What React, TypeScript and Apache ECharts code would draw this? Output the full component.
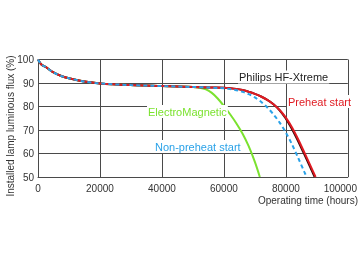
import React, { useEffect, useRef } from "react";
import * as echarts from "echarts";

// Shared early-life decline (hours, %)
const commonHours = [0, 1000, 2500, 5000, 7500, 10000, 15000, 20000, 30000, 40000, 50000];
const commonFlux = [100, 98, 96.8, 94.5, 93, 92, 90.6, 89.8, 89.1, 88.7, 88.3];

const electroHours = [52000, 54000, 56000, 58000, 60000, 62000, 64000, 66000, 68000, 70000, 71600];
const electroFlux = [88.0, 87.4, 85.9, 83.4, 80.2, 76.7, 72.9, 68.5, 63.1, 56.4, 50];

const nonPreheatHours = [55000, 58000, 60000, 62000, 64000, 66000, 68000, 70000, 72000, 74000, 76000, 78000, 80000, 82000, 84000, 86000, 86700];
const nonPreheatFlux = [88.1, 87.9, 87.75, 87.45, 86.95, 86.25, 85.25, 83.85, 82.0, 79.6, 76.65, 73.15, 68.95, 63.85, 58.05, 52.05, 50];

const preheatHours = [55000, 60000, 62000, 64000, 66000, 68000, 70000, 72000, 74000, 76000, 78000, 80000, 82000, 84000, 86000, 88000, 89600];
const preheatFlux = [88.1, 88.0, 87.8, 87.5, 87.0, 86.3, 85.4, 84.25, 82.8, 80.95, 78.5, 75.25, 71.05, 65.95, 60.35, 54.65, 50];

const xtremeHours = [55000, 60000, 62000, 64000, 66000, 68000, 70000, 72000, 74000, 76000, 77900, 79800, 81700, 83700, 85700, 87700, 89300];
const xtremeFlux = [88.1, 88.0, 87.8, 87.5, 87.0, 86.3, 85.4, 84.25, 82.8, 80.95, 78.5, 75.25, 71.05, 65.95, 60.35, 54.65, 50];

const xTicks = [0, 20000, 40000, 60000, 80000, 100000];
const yTicks = [50, 60, 70, 80, 90, 100];

const labels = {
  xtreme: "Philips HF-Xtreme",
  preheat: "Preheat start",
  electro: "ElectroMagnetic",
  nonPreheat: "Non-preheat start",
  xName: "Operating time (hours)",
  yName: "Installed lamp luminous flux (%)",
};

const zip = (hs: number[], fs: number[]) => hs.map((h, i) => [h, fs[i]]);
const withCommon = (hs: number[], fs: number[]) => [...zip(commonHours, commonFlux), ...zip(hs, fs)];

export default function App() {
  const ref = useRef<HTMLDivElement>(null);
  useEffect(() => {
    if (!ref.current) return;
    const chart = echarts.init(ref.current, null, { renderer: "svg" });
    const font = "'Liberation Sans', Arial, sans-serif";
    const gridColor = "#4a4a4a";
    const lineBase = { type: "line", smooth: 0.3, symbol: "none" };
    chart.setOption({
      animation: false,
      textStyle: { fontFamily: font },
      grid: { left: 38, right: 10, top: 59.5, bottom: 85, containLabel: false },
      xAxis: {
        type: "value",
        min: xTicks[0],
        max: xTicks[xTicks.length - 1],
        interval: 20000,
        axisLine: { show: true, lineStyle: { color: gridColor, width: 1 } },
        axisTick: { show: false },
        splitLine: { show: true, lineStyle: { color: gridColor, width: 1 } },
        axisLabel: {
          color: "#333",
          fontSize: 10,
          fontFamily: font,
          margin: 6,
          formatter: (v: number) => (v === xTicks[xTicks.length - 1] ? "{r|" + v + "}" : String(v)),
          rich: { r: { padding: [0, 15, 0, 0], fontSize: 10, color: "#333", fontFamily: font } },
        },
      },
      yAxis: {
        type: "value",
        min: yTicks[0],
        max: yTicks[yTicks.length - 1],
        interval: 10,
        axisLine: { show: true, lineStyle: { color: gridColor, width: 1 } },
        axisTick: { show: false },
        splitLine: { show: true, lineStyle: { color: gridColor, width: 1 } },
        axisLabel: { color: "#333", fontSize: 10, fontFamily: font, margin: 4 },
      },
      series: [
        {
          ...lineBase,
          name: labels.electro,
          data: withCommon(electroHours, electroFlux),
          lineStyle: { color: "#7be22f", width: 2 },
          z: 2,
        },
        {
          ...lineBase,
          name: labels.xtreme,
          data: withCommon(xtremeHours, xtremeFlux),
          lineStyle: { color: "#3a0808", width: 2 },
          z: 3,
        },
        {
          ...lineBase,
          name: labels.preheat,
          data: withCommon(preheatHours, preheatFlux),
          lineStyle: { color: "#e01b22", width: 2 },
          z: 4,
        },
        {
          ...lineBase,
          name: labels.nonPreheat,
          data: withCommon(nonPreheatHours, nonPreheatFlux),
          lineStyle: { color: "#2aa2e8", width: 2, type: [4, 3] },
          z: 5,
        },
      ],
      graphic: [
        {
          type: "text",
          x: 238,
          y: 77,
          z: 10,
          style: {
            text: labels.xtreme,
            fill: "#222",
            font: "11px " + font,
            verticalAlign: "middle",
            backgroundColor: "#fff",
            padding: [1, 1, 1, 1],
          },
        },
        {
          type: "text",
          x: 287,
          y: 101.5,
          z: 10,
          style: {
            text: labels.preheat,
            fill: "#e01b22",
            font: "11px " + font,
            verticalAlign: "middle",
            backgroundColor: "#fff",
            padding: [1, 2, 1, 1],
          },
        },
        {
          type: "text",
          x: 147,
          y: 111.5,
          z: 10,
          style: {
            text: labels.electro,
            fill: "#7be22f",
            font: "11px " + font,
            verticalAlign: "middle",
            backgroundColor: "#fff",
            padding: [1, 1, 1, 1],
          },
        },
        {
          type: "text",
          x: 154,
          y: 146.5,
          z: 10,
          style: {
            text: labels.nonPreheat,
            fill: "#2aa2e8",
            font: "11px " + font,
            verticalAlign: "middle",
            backgroundColor: "#fff",
            padding: [1, 1, 1, 1],
          },
        },
        {
          type: "text",
          x: 358,
          y: 200,
          style: {
            text: labels.xName,
            fill: "#333",
            font: "10px " + font,
            align: "right",
            verticalAlign: "middle",
          },
        },
        {
          type: "text",
          x: 10,
          y: 126,
          rotation: Math.PI / 2,
          style: {
            text: labels.yName,
            fill: "#333",
            font: "10px " + font,
            align: "center",
            verticalAlign: "middle",
          },
        },
      ],
    });
    return () => chart.dispose();
  }, []);
  return <div ref={ref} style={{ position: "fixed", left: 0, top: 0, width: 360, height: 262 }} />;
}
